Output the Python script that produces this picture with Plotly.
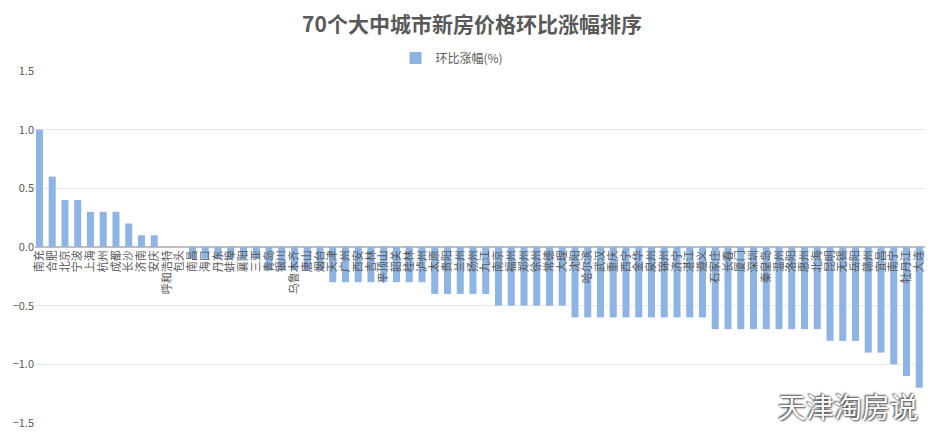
import plotly.graph_objects as go

cities = ["南充", "合肥", "北京", "宁波", "上海", "杭州", "成都", "长沙", "济南", "安庆",
          "呼和浩特", "包头", "南昌", "海口", "丹东", "蚌埠", "襄阳", "三亚", "青岛", "银川",
          "乌鲁木齐", "唐山", "烟台", "天津", "广州", "西安", "吉林", "平顶山", "韶关", "桂林",
          "泸州", "太原", "贵阳", "兰州", "扬州", "九江", "南京", "福州", "郑州", "徐州",
          "常德", "大理", "沈阳", "哈尔滨", "武汉", "重庆", "西宁", "金华", "泉州", "锦州",
          "济宁", "湛江", "遵义", "石家庄", "长春", "厦门", "深圳", "秦皇岛", "温州", "洛阳",
          "惠州", "北海", "昆明", "无锡", "岳阳", "赣州", "宜昌", "南宁", "牡丹江", "大连"]

values = [1.0, 0.6, 0.4, 0.4, 0.3, 0.3, 0.3, 0.2, 0.1, 0.1,
          0.0, 0.0, -0.1, -0.1, -0.1, -0.1, -0.1, -0.1, -0.2, -0.2,
          -0.2, -0.2, -0.2, -0.3, -0.3, -0.3, -0.3, -0.3, -0.3, -0.3,
          -0.3, -0.4, -0.4, -0.4, -0.4, -0.4, -0.5, -0.5, -0.5, -0.5,
          -0.5, -0.5, -0.6, -0.6, -0.6, -0.6, -0.6, -0.6, -0.6, -0.6,
          -0.6, -0.6, -0.6, -0.7, -0.7, -0.7, -0.7, -0.7, -0.7, -0.7,
          -0.7, -0.7, -0.8, -0.8, -0.8, -0.9, -0.9, -1.0, -1.1, -1.2]

series_name = "环比涨幅(%)"
title_text = "70个大中城市新房价格环比涨幅排序"
watermark = "天津淘房说"

FONT = "Noto Sans CJK SC, Microsoft YaHei, sans-serif"
GREY = "#595959"

# page body has an 8px default margin; compensate so the plot lands at the
# same absolute window positions as the reference
OFF = 8
PAGE_W, PAGE_H = 941, 439
W, H = PAGE_W - OFF, PAGE_H - OFF
PL, PT, PR, PB = 35, 71, 925, 423          # absolute plot-area edges in window
L, T = PL - OFF, PT - OFF
R, B = PAGE_W - PR, PAGE_H - PB
pw, ph = PR - PL, PB - PT

fig = go.Figure()
fig.add_trace(go.Bar(
    x=cities, y=values, name=series_name,
    marker=dict(color="#8DB4E2", line=dict(width=0)),
    showlegend=True,
))

fig.update_layout(
    width=W, height=H,
    margin=dict(l=L, r=R, t=T, b=B),
    paper_bgcolor="white", plot_bgcolor="white",
    font=dict(family=FONT, color=GREY, size=11),
    title=dict(text="<b>" + title_text + "</b>", x=(472 - OFF) / W, xanchor="center",
               y=1 - (25 - OFF) / H, yanchor="middle",
               font=dict(family=FONT, size=21, color=GREY)),
    legend=dict(orientation="h", x=(452 - PL) / pw, xanchor="center",
                y=(PB - 58) / ph, yanchor="middle",
                font=dict(size=12, color=GREY), itemwidth=30,
                bgcolor="rgba(0,0,0,0)"),
    bargap=0.45,
    xaxis=dict(type="category", anchor="free", position=0.5,
               range=[-0.35, 69.45], tickangle=-90,
               tickmode="array", tickvals=cities, ticktext=cities,
               showgrid=False, showline=False, ticks="",
               tickfont=dict(size=11, color=GREY), automargin=False),
    yaxis=dict(range=[-1.5, 1.5], dtick=0.5, tickformat=".1f",
               showgrid=True, gridcolor="#e8e8e8", gridwidth=1,
               zeroline=True, zerolinecolor="#bfbfbf", zerolinewidth=2,
               showline=False, ticks="",
               tickfont=dict(size=11, color=GREY), automargin=False),
    annotations=[dict(text=watermark, xref="paper", yref="paper",
                      x=(848 - PL) / pw, y=(PB - 406) / ph,
                      xanchor="center", yanchor="middle", showarrow=False,
                      font=dict(family=FONT, size=28, color="white",
                                shadow="1px 1px 2px #444, -1px -1px 2px #444"))],
)

fig.write_html("out.html")
